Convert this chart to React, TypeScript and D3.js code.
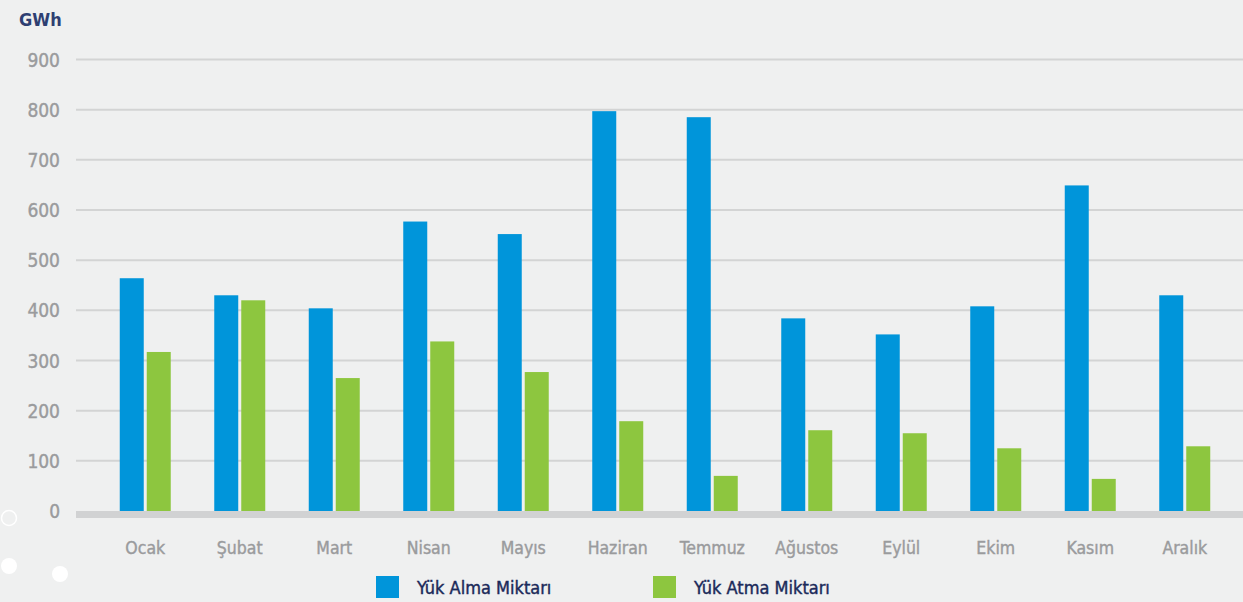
import React from 'react'
import * as d3 from 'd3'

const months = ['Ocak', 'Şubat', 'Mart', 'Nisan', 'Mayıs', 'Haziran', 'Temmuz', 'Ağustos', 'Eylül', 'Ekim', 'Kasım', 'Aralık']
const yukAlma = [464, 430, 404, 577, 552, 797, 785, 384, 352, 408, 649, 430]
const yukAtma = [317, 420, 265, 338, 277, 179, 70, 161, 155, 125, 64, 129]
const yTicks = [0, 100, 200, 300, 400, 500, 600, 700, 800, 900]
const seriesNames = ['Yük Alma Miktarı', 'Yük Atma Miktarı']

const W = 1243
const H = 602
const BLUE = '#0095da'
const GREEN = '#8dc63f'
const FONT = "'Liberation Sans Narrow', 'DejaVu Sans Condensed', 'Roboto', sans-serif"

export default function App() {
  // scales
  const x = d3.scaleBand<string>().domain(months).range([98, 1232])
  const y = d3.scaleLinear().domain([0, 900]).range([511, 59.5])
  const barW = 24
  const gap = 3

  return (
    <svg width={W} height={H} style={{ position: 'absolute', left: 0, top: 0, background: '#eff0f0', fontFamily: FONT }}>
      <rect width={W} height={H} fill="#eff0f0" />
      <text x={19} y={26} fontSize={18} fontWeight="bold" fill="#2e3f72" style={{ fontStretch: 'condensed' }}>GWh</text>

      {/* grid + y ticks */}
      {yTicks.map(t => (
        <g key={t}>
          {t > 0 && <line x1={76} x2={W} y1={y(t)} y2={y(t)} stroke="#d3d4d4" strokeWidth={2} />}
          <text x={60} y={y(t) + 7} textAnchor="end" fontSize={19} fill="#9a9b9d" stroke="#9a9b9d" strokeWidth={0.4}>{t}</text>
        </g>
      ))}

      {/* bars */}
      {months.map((m, i) => {
        const c = (x(m) as number) + x.bandwidth() / 2
        return (
          <g key={m}>
            <rect x={c - gap / 2 - barW} y={y(yukAlma[i])} width={barW} height={y(0) - y(yukAlma[i])} fill={BLUE} />
            <rect x={c + gap / 2} y={y(yukAtma[i])} width={barW} height={y(0) - y(yukAtma[i])} fill={GREEN} />
            <text x={c} y={554} textAnchor="middle" fontSize={17.5} fill="#9a9b9d" stroke="#9a9b9d" strokeWidth={0.4}>{m}</text>
          </g>
        )
      })}

      {/* baseline */}
      <rect x={76} y={511} width={W - 76} height={7} fill="#d1d2d3" />

      {/* legend */}
      <rect x={376} y={576} width={23} height={22} fill={BLUE} />
      <text x={417} y={594} fontSize={18} fill="#1b2a5a" stroke="#1b2a5a" strokeWidth={0.4}>{seriesNames[0]}</text>
      <rect x={653} y={576} width={23} height={22} fill={GREEN} />
      <text x={694} y={594} fontSize={18} fill="#1b2a5a" stroke="#1b2a5a" strokeWidth={0.4}>{seriesNames[1]}</text>

      {/* decorative dots */}
      <circle cx={9} cy={518} r={7.5} fill="none" stroke="#ffffff" strokeWidth={1.5} />
      <circle cx={9} cy={566} r={8} fill="#ffffff" />
      <circle cx={60} cy={574} r={8} fill="#ffffff" />
    </svg>
  )
}
